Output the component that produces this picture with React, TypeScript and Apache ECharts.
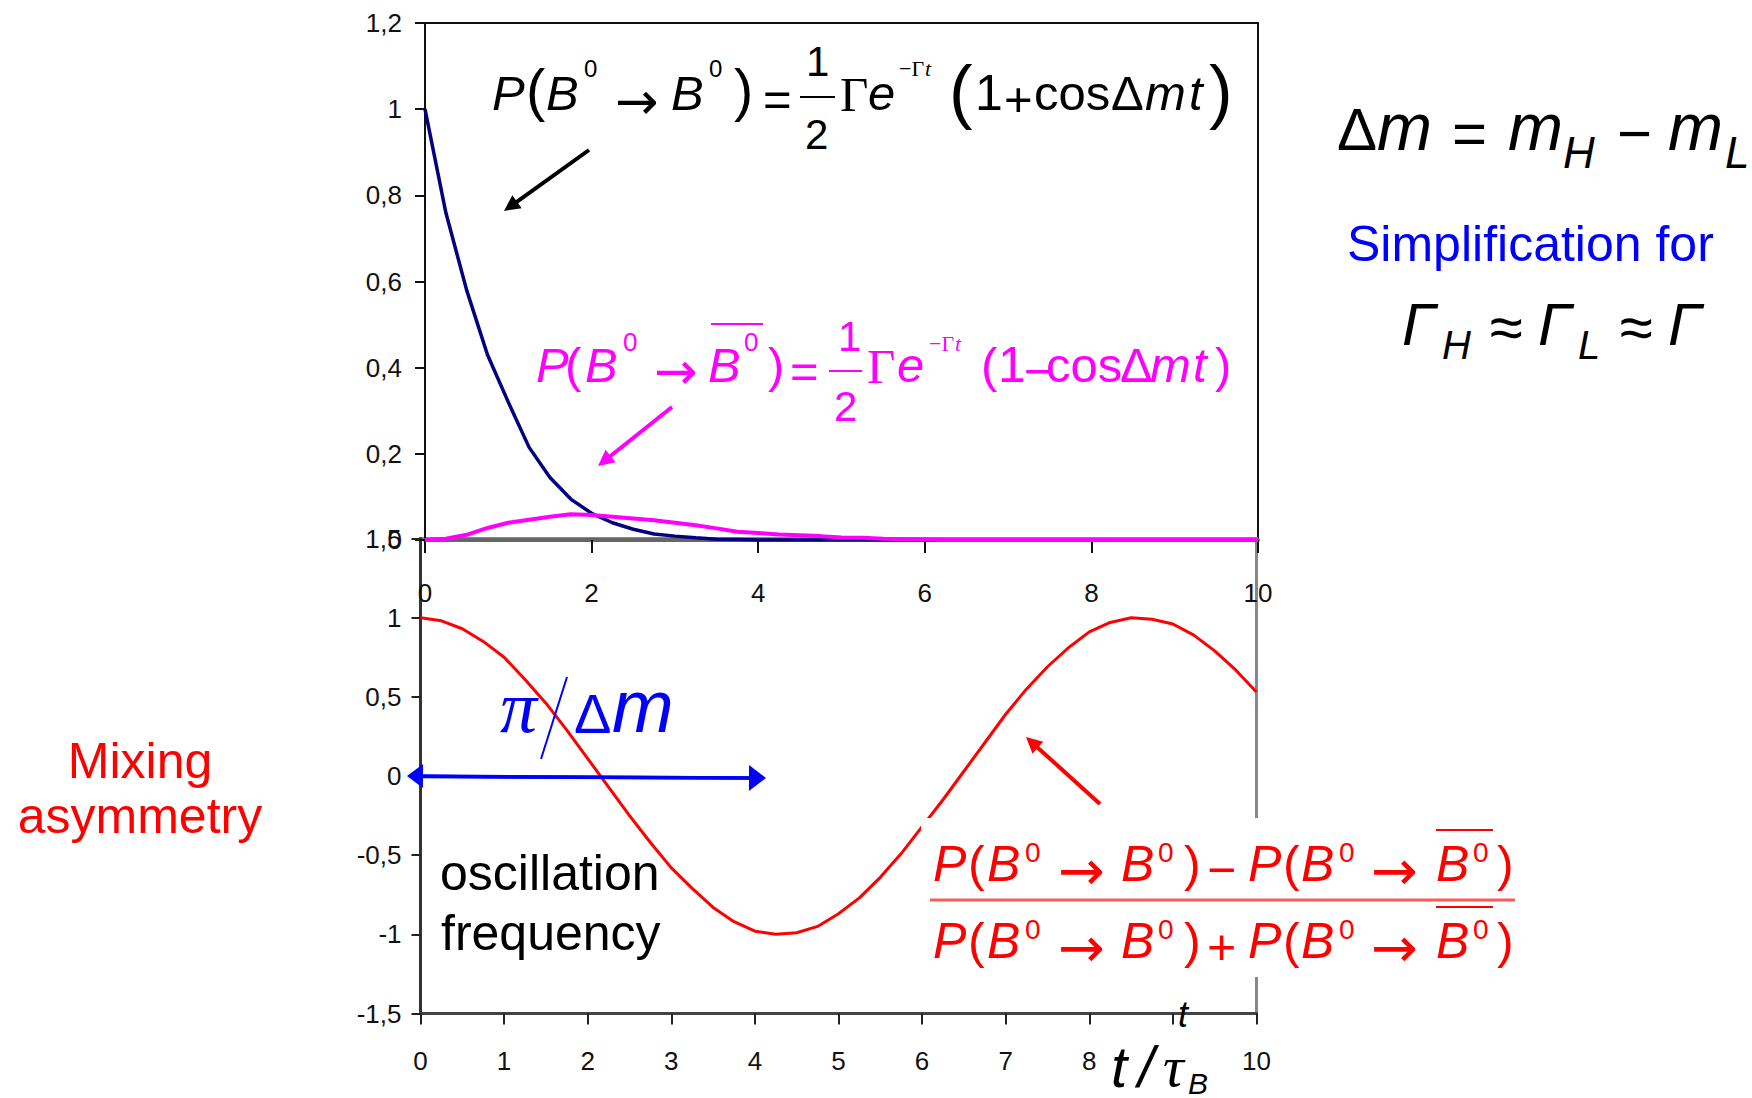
import React, { useEffect, useRef } from 'react';
import * as echarts from 'echarts';

// ---------- data ----------
const tValues = [
  0, 0.25, 0.5, 0.75, 1, 1.25, 1.5, 1.75, 2, 2.25, 2.5, 2.75, 3, 3.25, 3.5, 3.75, 4, 4.25, 4.5, 4.75,
  5, 5.25, 5.5, 5.75, 6, 6.25, 6.5, 6.75, 7, 7.25, 7.5, 7.75, 8, 8.25, 8.5, 8.75, 9, 9.25, 9.5, 9.75, 10,
];
// P(B0 -> B0), navy curve (top panel)
const probUnmixed = [
  1.0, 0.76, 0.58, 0.43, 0.32, 0.215, 0.145, 0.095, 0.062, 0.04, 0.025, 0.014, 0.009, 0.005, 0.002, 0.001,
  0, 0, 0, 0, 0, 0, 0, 0, 0, 0, 0, 0, 0, 0, 0, 0, 0, 0, 0, 0, 0, 0, 0, 0, 0,
];
// P(B0 -> anti-B0), magenta curve (top panel)
const probMixed = [
  0, 0.003, 0.012, 0.028, 0.04, 0.047, 0.054, 0.06, 0.058, 0.054, 0.05, 0.046, 0.04, 0.034, 0.027, 0.019,
  0.016, 0.013, 0.011, 0.009, 0.006, 0.005, 0.003, 0.002, 0.001, 0, 0, 0, 0, 0, 0, 0, 0, 0, 0, 0, 0, 0, 0, 0, 0,
];
// Mixing asymmetry, red curve (bottom panel)
const asymmetry = [
  1.0, 0.98, 0.93, 0.85, 0.75, 0.61, 0.46, 0.29, 0.11, -0.07, -0.25, -0.42, -0.58, -0.71, -0.83, -0.92,
  -0.98, -1.0, -0.99, -0.95, -0.87, -0.77, -0.64, -0.49, -0.32, -0.15, 0.03, 0.21, 0.39, 0.55, 0.69, 0.81,
  0.91, 0.97, 1.0, 0.99, 0.96, 0.89, 0.79, 0.67, 0.53,
];

const SANS = '"Liberation Sans", Arial, "DejaVu Sans", sans-serif';
const SERIF = '"Liberation Serif", "Times New Roman", "DejaVu Serif", serif';
const DEJAVU = '"DejaVu Sans", sans-serif';

function fontOf(kind: string, size: number) {
  if (kind === 'i') return `italic ${size}px ${SANS}`;
  if (kind === 's') return `${size}px ${SERIF}`;
  if (kind === 'si') return `italic ${size}px ${SERIF}`;
  if (kind === 'd') return `${size}px ${DEJAVU}`;
  return `${size}px ${SANS}`;
}

type Piece = [string, number, number, number, string];

function pieces(list: Piece[], color: string, align = 'left') {
  return list.map(([text, x, y, size, kind]) => ({
    type: 'text',
    x,
    y,
    z: 101,
    silent: true,
    style: { text, fill: color, font: fontOf(kind, size), align, verticalAlign: 'middle' },
  }));
}

function seg(x1: number, y1: number, x2: number, y2: number, color: string, w: number) {
  return { type: 'line', z: 101, silent: true, shape: { x1, y1, x2, y2 }, style: { stroke: color, lineWidth: w } };
}

function arrow(x1: number, y1: number, x2: number, y2: number, color: string, w: number, hl: number, hw: number) {
  const dx = x2 - x1;
  const dy = y2 - y1;
  const len = Math.hypot(dx, dy);
  const ux = dx / len;
  const uy = dy / len;
  const bx = x2 - ux * hl;
  const by = y2 - uy * hl;
  const px = -uy;
  const py = ux;
  return [
    seg(x1, y1, bx + ux * 2, by + uy * 2, color, w),
    {
      type: 'polygon',
      z: 101,
      silent: true,
      shape: { points: [[x2, y2], [bx + px * hw, by + py * hw], [bx - px * hw, by - py * hw]] },
      style: { fill: color },
    },
  ];
}

const fmt = (v: number) => String(Number(v.toFixed(2))).replace('.', ',');

// ---------- annotation layouts ----------
const blackFormula: Piece[] = [
  ['P', 492, 93, 49, 'i'],
  ['(', 526, 89, 58, 'n'],
  ['B', 546, 93, 49, 'i'],
  ['0', 584, 68, 24, 'n'],
  ['→', 615, 101, 52, 'd'],
  ['B', 671, 93, 49, 'i'],
  ['0', 709, 68, 24, 'n'],
  [')', 734, 89, 58, 'n'],
  ['=', 763, 99, 49, 'n'],
  ['1', 806, 61, 42, 'n'],
  ['2', 805, 134, 42, 'n'],
  ['Γ', 840, 94, 49, 's'],
  ['e', 868, 93, 49, 'i'],
  ['−Γ', 899, 68, 22, 's'],
  ['t', 925, 68, 22, 'si'],
  ['(', 949, 90, 71, 'n'],
  ['1', 975, 93, 50, 'n'],
  ['+', 1004, 99, 49, 'n'],
  ['cos', 1034, 93, 49, 'n'],
  ['Δ', 1111, 93, 49, 'n'],
  ['m', 1145, 93, 49, 'i'],
  ['t', 1189, 93, 49, 'i'],
  [')', 1209, 90, 71, 'n'],
];

const magentaFormula: Piece[] = [
  ['P', 536, 365, 49, 'i'],
  ['(', 565, 365, 49, 'n'],
  ['B', 585, 365, 49, 'i'],
  ['0', 623, 342, 26, 'n'],
  ['→', 654, 371, 52, 'd'],
  ['B', 708, 365, 49, 'i'],
  ['0', 744, 342, 26, 'n'],
  [')', 768, 365, 49, 'n'],
  ['=', 790, 371, 49, 'n'],
  ['1', 838, 336, 42, 'n'],
  ['2', 834, 406, 42, 'n'],
  ['Γ', 867, 366, 49, 's'],
  ['e', 897, 365, 49, 'i'],
  ['−Γ', 929, 343, 22, 's'],
  ['t', 955, 343, 22, 'si'],
  ['(', 981, 365, 49, 'n'],
  ['1', 998, 365, 50, 'n'],
  ['−', 1024, 371, 49, 'n'],
  ['cos', 1046, 365, 49, 'n'],
  ['Δ', 1120, 365, 49, 'n'],
  ['m', 1150, 365, 49, 'i'],
  ['t', 1193, 365, 49, 'i'],
  [')', 1215, 365, 49, 'n'],
];

function redRow(y: number, op: string): Piece[] {
  return [
    ['P', 933, y, 50, 'i'],
    ['(', 968, y, 50, 'n'],
    ['B', 987, y, 50, 'i'],
    ['0', 1025, y - 12, 28, 'n'],
    ['→', 1058, y + 6, 56, 'd'],
    ['B', 1121, y, 50, 'i'],
    ['0', 1158, y - 12, 28, 'n'],
    [')', 1184, y, 50, 'n'],
    [op, 1207, y + 6, 50, 'n'],
    ['P', 1248, y, 50, 'i'],
    ['(', 1283, y, 50, 'n'],
    ['B', 1301, y, 50, 'i'],
    ['0', 1339, y - 12, 28, 'n'],
    ['→', 1371, y + 6, 56, 'd'],
    ['B', 1436, y, 50, 'i'],
    ['0', 1473, y - 12, 28, 'n'],
    [')', 1497, y, 50, 'n'],
  ];
}

const rightBlack: Piece[] = [
  ['Δ', 1337, 129, 60, 'n'],
  ['m', 1377, 127, 66, 'i'],
  ['=', 1452, 133, 60, 'n'],
  ['m', 1508, 127, 66, 'i'],
  ['H', 1563, 152, 44, 'i'],
  ['−', 1617, 133, 60, 'n'],
  ['m', 1668, 127, 66, 'i'],
  ['L', 1725, 152, 44, 'i'],
  ['Γ', 1402, 324, 60, 'i'],
  ['H', 1442, 345, 40, 'i'],
  ['≈', 1490, 327, 60, 'n'],
  ['Γ', 1538, 324, 60, 'i'],
  ['L', 1578, 345, 40, 'i'],
  ['≈', 1620, 327, 60, 'n'],
  ['Γ', 1668, 324, 60, 'i'],
];

const blueTexts: Piece[] = [
  ['Simplification for', 1347, 244, 50, 'n'],
  ['π', 500, 707, 74, 'si'],
  ['Δ', 574, 713, 56, 'n'],
  ['m', 612, 706, 74, 'i'],
];

const blackTexts: Piece[] = [
  ['oscillation', 440, 873, 50, 'n'],
  ['frequency', 441, 933, 50, 'n'],
  ['t', 1111, 1066, 58, 'i'],
  ['/', 1138, 1066, 58, 'i'],
  ['τ', 1163, 1066, 58, 'si'],
  ['B', 1188, 1083, 30, 'i'],
  ['t', 1178, 1014, 36, 'i'],
];

const redCenter: Piece[] = [
  ['Mixing', 140, 761, 50, 'n'],
  ['asymmetry', 140, 816, 50, 'n'],
];

function buildGraphics() {
  const g: any[] = [];
  // white boxes behind the asymmetry definition and the axis title
  g.push({ type: 'rect', z: 99, silent: true, shape: { x: 921, y: 818, width: 597, height: 159 }, style: { fill: '#ffffff' } });
  g.push({ type: 'rect', z: 99, silent: true, shape: { x: 1104, y: 1036, width: 112, height: 62 }, style: { fill: '#ffffff' } });
  g.push(...pieces(blackFormula, '#000000'));
  g.push(seg(800, 97, 835, 97, '#000000', 2));
  g.push(...pieces(magentaFormula, '#ff00ff'));
  g.push(seg(829, 371, 862, 371, '#ff00ff', 2));
  g.push(seg(711, 324, 763, 324, '#ff00ff', 2));
  g.push(...pieces(redRow(864, '−'), '#ff0000'));
  g.push(...pieces(redRow(941, '+'), '#ff0000'));
  g.push(seg(930, 900, 1515, 900, '#ff5a5a', 3));
  g.push(seg(1436, 830, 1493, 830, '#ff0000', 2));
  g.push(seg(1436, 907, 1493, 907, '#ff0000', 2));
  g.push(...pieces(rightBlack, '#000000'));
  g.push(...pieces(blueTexts, '#0000ff'));
  g.push(seg(567, 677, 541, 759, '#0000ff', 2));
  g.push(...pieces(blackTexts, '#000000'));
  g.push(...pieces(redCenter, '#ff0000', 'center'));
  // arrows
  g.push(...arrow(589, 150, 504, 211, '#000000', 4, 16, 8));
  g.push(...arrow(672, 407, 598, 466, '#ff00ff', 4, 16, 8));
  g.push(...arrow(1100, 804, 1026, 737, '#ff0000', 4, 16, 8));
  // blue double arrow
  g.push(seg(420, 776.5, 752, 778, '#0000ff', 3.5));
  g.push(...arrow(560, 777, 407, 776, '#0000ff', 3.5, 16, 12));
  g.push(...arrow(560, 777, 766, 778, '#0000ff', 3.5, 17, 13));
  return g;
}

export default function App() {
  const ref = useRef<HTMLDivElement>(null);

  useEffect(() => {
    if (!ref.current) return;
    const chart = echarts.init(ref.current, undefined, { renderer: 'svg' });
    const pairs = (ys: number[]) => tValues.map((t, i) => [t, ys[i]]);
    const labelStyle = { fontSize: 26, color: '#111', fontFamily: SANS };

    chart.setOption({
      animation: false,
      backgroundColor: '#ffffff',
      grid: [
        { left: 425, top: 23, width: 833, height: 517, show: true, borderColor: '#111', borderWidth: 2, backgroundColor: 'transparent' },
        { left: 420.5, top: 538.5, width: 836, height: 475, show: true, borderColor: '#888', borderWidth: 3, backgroundColor: 'transparent' },
      ],
      xAxis: [
        {
          gridIndex: 0, type: 'value', min: 0, max: 10, interval: 2,
          axisLine: { show: true, onZero: false, lineStyle: { color: '#666', width: 4 } },
          axisTick: { show: true, length: 13, lineStyle: { color: '#111', width: 2 } },
          axisLabel: { ...labelStyle, margin: 40 },
          splitLine: { show: false },
        },
        {
          gridIndex: 1, type: 'value', min: 0, max: 10, interval: 1,
          axisLine: { show: true, onZero: false, lineStyle: { color: '#444', width: 3 } },
          axisTick: { show: true, length: 11, lineStyle: { color: '#222', width: 2 } },
          axisLabel: { ...labelStyle, margin: 34 },
          splitLine: { show: false },
        },
      ],
      yAxis: [
        {
          gridIndex: 0, type: 'value', min: 0, max: 1.2, interval: 0.2,
          axisLine: { show: true, onZero: false, lineStyle: { color: '#111', width: 2 } },
          axisTick: { show: true, length: 10, lineStyle: { color: '#111', width: 2 } },
          axisLabel: { ...labelStyle, margin: 23, formatter: fmt },
          splitLine: { show: false },
        },
        {
          gridIndex: 1, type: 'value', min: -1.5, max: 1.5, interval: 0.5,
          axisLine: { show: true, onZero: false, lineStyle: { color: '#333', width: 3 } },
          axisTick: { show: true, length: 9, lineStyle: { color: '#222', width: 2 } },
          axisLabel: { ...labelStyle, margin: 19, formatter: fmt },
          splitLine: { show: false },
        },
      ],
      series: [
        {
          type: 'line', xAxisIndex: 0, yAxisIndex: 0, data: pairs(probUnmixed), symbol: 'none', z: 2,
          lineStyle: { color: '#000080', width: 3.5 },
        },
        {
          type: 'line', xAxisIndex: 0, yAxisIndex: 0, data: pairs(probMixed), symbol: 'none', z: 3,
          lineStyle: { color: '#ff00ff', width: 4 },
        },
        {
          type: 'line', xAxisIndex: 1, yAxisIndex: 1, data: pairs(asymmetry), symbol: 'none', z: 2,
          lineStyle: { color: '#ff0000', width: 3 },
        },
      ],
      graphic: buildGraphics(),
    });

    return () => chart.dispose();
  }, []);

  return <div ref={ref} style={{ position: 'absolute', left: 0, top: 0, width: 1752, height: 1098 }} />;
}
